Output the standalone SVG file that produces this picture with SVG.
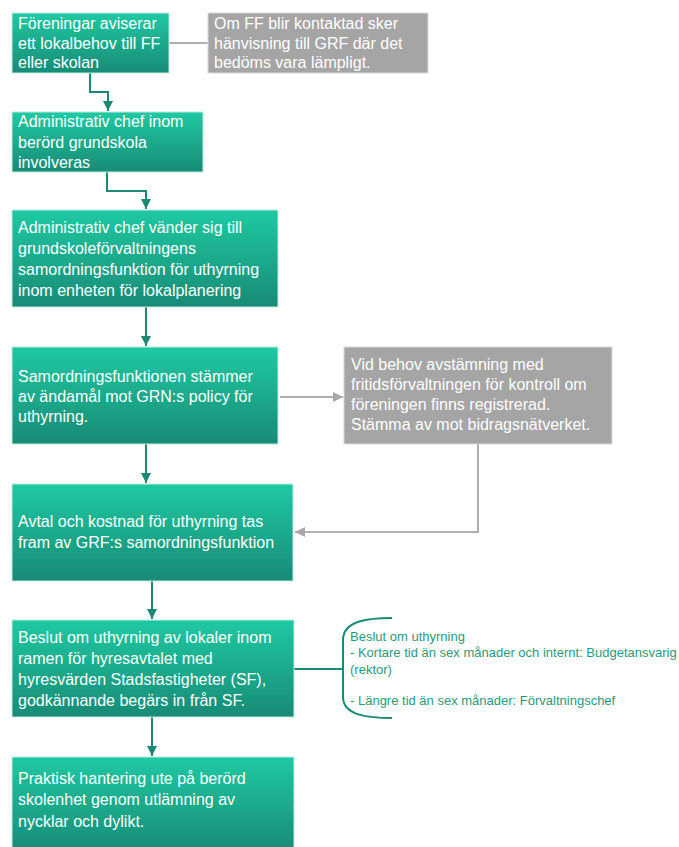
<svg xmlns="http://www.w3.org/2000/svg" width="679" height="847" viewBox="0 0 679 847">
<defs>
<linearGradient id="g" x1="0" y1="0" x2="0" y2="1">
<stop offset="0" stop-color="#1fc9a3"/>
<stop offset="1" stop-color="#178b76"/>
</linearGradient>
<marker id="ag" viewBox="0 0 10 10" refX="10" refY="5" markerWidth="10" markerHeight="10" orient="auto" markerUnits="userSpaceOnUse"><path d="M0,0 L10,5 L0,10 z" fill="#1b8a74"/></marker>
<marker id="ay" viewBox="0 0 10 10" refX="10" refY="5" markerWidth="10" markerHeight="10" orient="auto" markerUnits="userSpaceOnUse"><path d="M0,0 L10,5 L0,10 z" fill="#a8a8a8"/></marker>
<style>
.b{fill:url(#g);stroke:#c3eadf;stroke-width:1}
.gr{fill:#a5a5a5;stroke:#dadada;stroke-width:1}
.t{font-family:"Liberation Sans",Arial,sans-serif;font-size:16px;fill:#ffffff}
.s{font-family:"Liberation Sans",Arial,sans-serif;font-size:13px;fill:#2a9a7e}
.cg{fill:none;stroke:#1b8a74;stroke-width:2}
.cy{fill:none;stroke:#b0b0b0;stroke-width:2}
</style>
</defs>
<g id="connectors">
<line class="cy" x1="169" y1="43" x2="208" y2="43"/>
<polyline class="cg" points="90,73 90,92 108,92 108,111" marker-end="url(#ag)"/>
<polyline class="cg" points="107,172 107,191 146,191 146,209" marker-end="url(#ag)"/>
<line class="cg" x1="146" y1="307" x2="146" y2="346" marker-end="url(#ag)"/>
<line class="cy" x1="280" y1="397" x2="343" y2="397" marker-end="url(#ay)"/>
<line class="cg" x1="146" y1="444" x2="146" y2="483" marker-end="url(#ag)"/>
<polyline class="cy" points="478,444 478,532 295,532" marker-end="url(#ay)"/>
<line class="cg" x1="152" y1="581" x2="152" y2="619" marker-end="url(#ag)"/>
<line class="cg" x1="294" y1="669" x2="343" y2="669"/>
<line class="cg" x1="152" y1="717" x2="152" y2="756" marker-end="url(#ag)"/>
</g>
<g id="n1"><rect class="b" x="12" y="13" width="157" height="60"/>
<text class="t" x="18" y="29">Föreningar aviserar</text><text class="t" x="18" y="49">ett lokalbehov till FF</text><text class="t" x="18" y="68">eller skolan</text></g>
<g id="n2"><rect class="gr" x="208" y="13" width="220" height="60"/>
<text class="t" x="214" y="29">Om FF blir kontaktad sker</text><text class="t" x="214" y="49">hänvisning till GRF där det</text><text class="t" x="214" y="68">bedöms vara lämpligt.</text></g>
<g id="n3"><rect class="b" x="12" y="112" width="191" height="60"/>
<text class="t" x="18" y="127">Administrativ chef inom</text><text class="t" x="18" y="148">berörd grundskola</text><text class="t" x="18" y="168">involveras</text></g>
<g id="n4"><rect class="b" x="12" y="210" width="266" height="97"/>
<text class="t" x="18" y="233">Administrativ chef vänder sig till</text><text class="t" x="18" y="254">grundskoleförvaltningens</text><text class="t" x="18" y="275">samordningsfunktion för uthyrning</text><text class="t" x="18" y="296">inom enheten för lokalplanering</text></g>
<g id="n5"><rect class="b" x="12" y="347" width="266" height="97"/>
<text class="t" x="18" y="382">Samordningsfunktionen stämmer</text><text class="t" x="18" y="402">av ändamål mot GRN:s policy för</text><text class="t" x="18" y="422">uthyrning.</text></g>
<g id="n6"><rect class="gr" x="344" y="347" width="268" height="97"/>
<text class="t" x="351" y="370">Vid behov avstämning med</text><text class="t" x="351" y="390">fritidsförvaltningen för kontroll om</text><text class="t" x="351" y="410">föreningen finns registrerad.</text><text class="t" x="351" y="430">Stämma av mot bidragsnätverket.</text></g>
<g id="n7"><rect class="b" x="12" y="484" width="281" height="97"/>
<text class="t" x="18" y="527">Avtal och kostnad för uthyrning tas</text><text class="t" x="18" y="548">fram av GRF:s samordningsfunktion</text></g>
<g id="n8"><rect class="b" x="12" y="620" width="282" height="97"/>
<text class="t" x="18" y="643">Beslut om uthyrning av lokaler inom</text><text class="t" x="18" y="664">ramen för hyresavtalet med</text><text class="t" x="18" y="685">hyresvärden Stadsfastigheter (SF),</text><text class="t" x="18" y="706">godkännande begärs in från SF.</text></g>
<g id="n9"><rect class="b" x="12" y="757" width="282" height="95"/>
<text class="t" x="18" y="784">Praktisk hantering ute på berörd</text><text class="t" x="18" y="805">skolenhet genom utlämning av</text><text class="t" x="18" y="827">nycklar och dylikt.</text></g>
<g id="brace">
<path d="M392,618 C370,618 343,620 343,640 L343,697 C343,716 370,718 392,718" fill="none" stroke="#1b8a74" stroke-width="2"/>
<text class="s" x="350" y="641">Beslut om uthyrning</text>
<text class="s" x="350" y="657">- Kortare tid än sex månader och internt: Budgetansvarig</text>
<text class="s" x="350" y="674">(rektor)</text>
<text class="s" x="350" y="705">- Längre tid än sex månader: Förvaltningschef</text>
</g>
</svg>
